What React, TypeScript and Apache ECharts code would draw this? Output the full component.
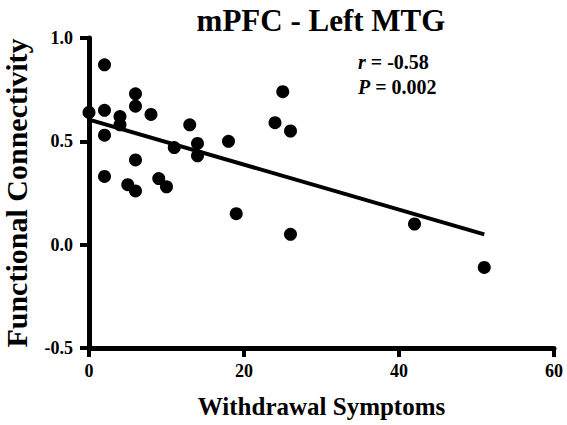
import React, { useEffect, useRef } from "react";
import * as echarts from "echarts";

const withdrawal = [0, 2, 2, 2, 2, 4, 4, 5, 6, 6, 6, 6, 8, 9, 10, 11, 13, 14, 14, 18, 19, 24, 25, 26, 26, 42, 51];
const connectivity = [0.64, 0.87, 0.65, 0.53, 0.33, 0.62, 0.58, 0.29, 0.73, 0.67, 0.41, 0.26, 0.63, 0.32, 0.28, 0.47, 0.58, 0.49, 0.43, 0.5, 0.15, 0.59, 0.74, 0.55, 0.05, 0.1, -0.11];
const fitX = [0, 51];
const fitY = [0.605, 0.05];
const titleText = "mPFC - Left MTG";
const xName = "Withdrawal Symptoms";
const yName = "Functional Connectivity";
const statR = "-0.58";
const statP = "0.002";

const FONT = "'Liberation Serif', 'Times New Roman', serif";
const INK = "#000000";

export default function App() {
  const ref = useRef<HTMLDivElement>(null);
  useEffect(() => {
    if (!ref.current) return;
    const chart = echarts.init(ref.current, null, { renderer: "svg" });
    const mkLine = () => ({ show: true, onZero: false, lineStyle: { color: INK, width: 5, opacity: 1 } });
    const mkTick = () => ({ show: true, inside: false, length: 9, lineStyle: { color: INK, width: 4, opacity: 1 } });
    const mkLabel = (margin: number) => ({ show: true, color: "#000", fontFamily: FONT, fontWeight: "bold", fontSize: 18, margin });
    chart.setOption({
      animation: false,
      backgroundColor: "#fff",
      title: {
        text: titleText,
        left: 316,
        top: 0,
        textAlign: "center",
        textStyle: { fontFamily: FONT, fontWeight: "bold", fontSize: 31, color: "#000" },
      },
      grid: { left: 89, right: 13, top: 38, bottom: 77, containLabel: false, outerBoundsMode: "none" },
      xAxis: {
        type: "value",
        position: "bottom",
        min: 0,
        max: 60,
        interval: 20,
        axisLine: mkLine(),
        axisTick: mkTick(),
        splitLine: { show: false },
        axisLabel: mkLabel(14),
        name: xName,
        nameLocation: "middle",
        nameGap: 46,
        nameTextStyle: { fontFamily: FONT, fontWeight: "bold", fontSize: 25, color: "#000" },
      },
      yAxis: {
        type: "value",
        position: "left",
        min: -0.5,
        max: 1.0,
        interval: 0.5,
        axisLine: mkLine(),
        axisTick: mkTick(),
        splitLine: { show: false },
        axisLabel: { ...mkLabel(16), formatter: (v: number) => v.toFixed(1) },
        name: yName,
        nameLocation: "middle",
        nameGap: 58,
        nameTextStyle: { fontFamily: FONT, fontWeight: "bold", fontSize: 30, color: "#000" },
      },
      graphic: [
        {
          type: "text",
          left: 358,
          top: 49,
          style: {
            text: "{i|r} = " + statR + "\n{i|P} = " + statP,
            fontFamily: FONT,
            fontWeight: "bold",
            fontSize: 20,
            lineHeight: 25,
            fill: "#000",
            rich: {
              i: { fontFamily: FONT, fontWeight: "bold", fontStyle: "italic", fontSize: 20, lineHeight: 25, fill: "#000" },
            },
          },
        },
      ],
      series: [
        {
          type: "line",
          data: fitX.map((x, i) => [x, fitY[i]]),
          showSymbol: false,
          symbol: "none",
          lineStyle: { color: "#000", width: 4 },
          z: 1,
        },
        {
          type: "scatter",
          data: withdrawal.map((x, i) => [x, connectivity[i]]),
          symbol: "circle",
          symbolSize: 13,
          itemStyle: { color: "#000", opacity: 1 },
          z: 2,
        },
      ],
    });
    return () => chart.dispose();
  }, []);
  return <div ref={ref} style={{ width: 567, height: 425, position: "absolute", left: 0, top: 0 }} />;
}
